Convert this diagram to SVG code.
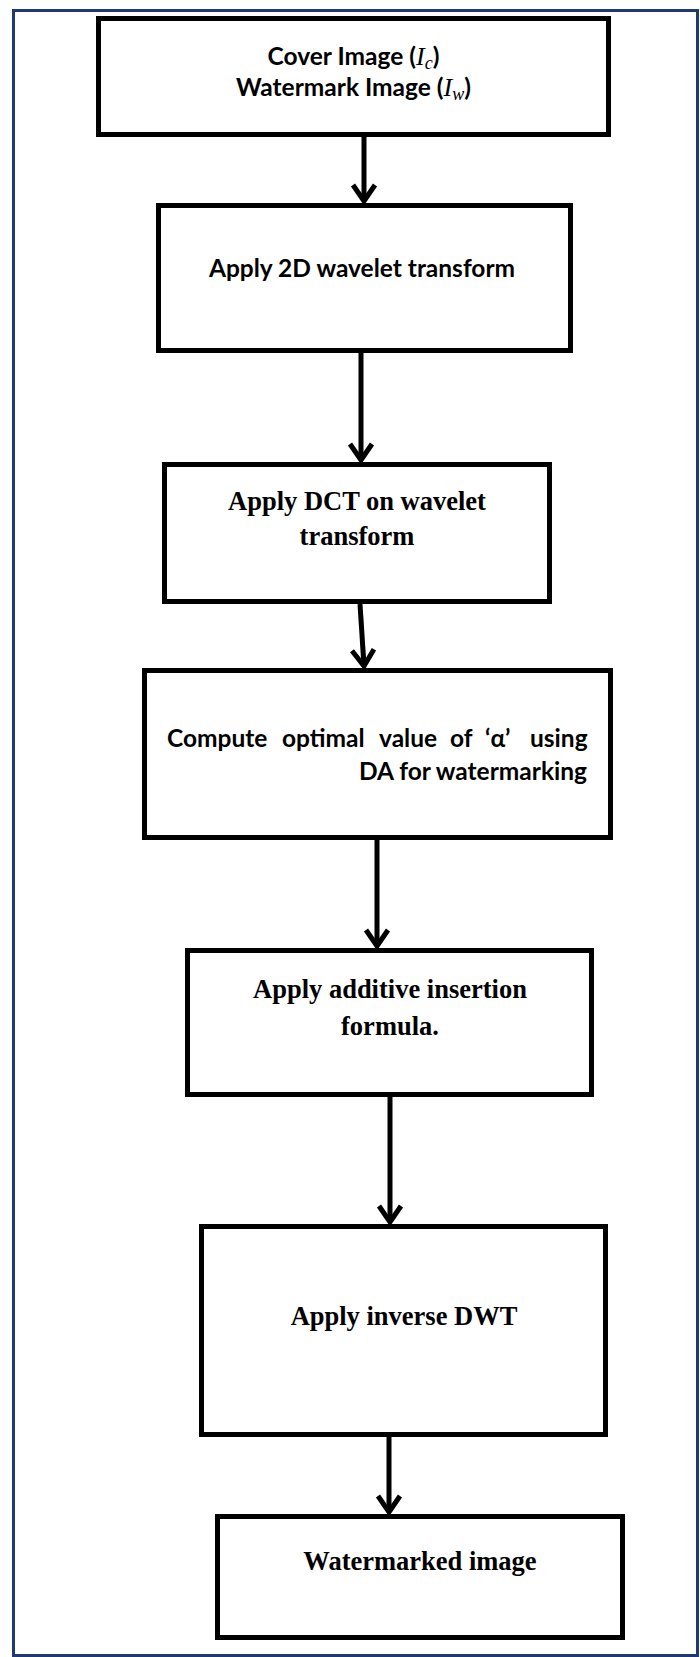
<svg xmlns="http://www.w3.org/2000/svg" width="700" height="1657" viewBox="0 0 700 1657">
<defs>
<style>
.box{fill:#fff;stroke:#000;stroke-width:5}
.frame{fill:#fff;stroke:#1f3a73;stroke-width:3}
.cal{font-family:Lato,"Carlito","Liberation Sans",sans-serif;font-weight:bold;font-size:24.5px;fill:#000}
.tnr{font-family:"Liberation Serif","Times New Roman",serif;font-weight:bold;font-size:26.5px;fill:#000}
.math{font-family:"Liberation Serif",serif;font-style:italic;font-weight:normal;font-size:26px}
.sub{font-family:"Liberation Serif",serif;font-style:italic;font-weight:normal;font-size:18px}
.con{fill:none;stroke:#000;stroke-width:5}
</style>
<marker id="arr" markerUnits="userSpaceOnUse" markerWidth="40" markerHeight="40" refX="0" refY="0" orient="auto" overflow="visible">
<path d="M-16,-11 L0,0 L-16,11" fill="none" stroke="#000" stroke-width="5" stroke-linejoin="miter"/>
</marker>
</defs>
<rect class="frame" x="13.5" y="10.5" width="684" height="1645"/>
<g id="connectors">
<line class="con" x1="364" y1="137" x2="364" y2="201" marker-end="url(#arr)"/>
<line class="con" x1="361" y1="353" x2="361" y2="460" marker-end="url(#arr)"/>
<line class="con" x1="360" y1="604" x2="364" y2="666" marker-end="url(#arr)"/>
<line class="con" x1="377" y1="840" x2="377" y2="946" marker-end="url(#arr)"/>
<line class="con" x1="390" y1="1097" x2="390" y2="1222" marker-end="url(#arr)"/>
<line class="con" x1="389" y1="1437" x2="389" y2="1512" marker-end="url(#arr)"/>
</g>
<g id="n1">
<rect class="box" x="98.5" y="18.5" width="510" height="116"/>
<text class="cal" x="353.5" y="65" text-anchor="middle">Cover Image (<tspan class="math">I</tspan><tspan class="sub" dy="4">c</tspan><tspan dy="-4">)</tspan></text>
<text class="cal" x="353.5" y="96" text-anchor="middle">Watermark Image (<tspan class="math">I</tspan><tspan class="sub" dy="4">w</tspan><tspan dy="-4">)</tspan></text>
</g>
<g id="n2">
<rect class="box" x="158.5" y="205.5" width="412" height="145"/>
<text class="cal" x="362" y="277" text-anchor="middle">Apply 2D wavelet transform</text>
</g>
<g id="n3">
<rect class="box" x="164.5" y="464.5" width="385" height="137"/>
<text class="tnr" x="357" y="510" text-anchor="middle">Apply DCT on wavelet</text>
<text class="tnr" x="357" y="545" text-anchor="middle">transform</text>
</g>
<g id="n4">
<rect class="box" x="144.5" y="670.5" width="466" height="167"/>
<text class="cal" y="747"><tspan x="167">Compute</tspan><tspan x="282">optimal</tspan><tspan x="379">value</tspan><tspan x="450">of</tspan><tspan x="485">‘α’</tspan><tspan x="530">using</tspan></text>
<text class="cal" x="587" y="780" text-anchor="end">DA for watermarking</text>
</g>
<g id="n5">
<rect class="box" x="187.5" y="950.5" width="404" height="144"/>
<text class="tnr" x="390" y="998" text-anchor="middle">Apply additive insertion</text>
<text class="tnr" x="390" y="1035" text-anchor="middle">formula.</text>
</g>
<g id="n6">
<rect class="box" x="201.5" y="1226.5" width="404" height="208"/>
<text class="tnr" x="404" y="1325" text-anchor="middle">Apply inverse DWT</text>
</g>
<g id="n7">
<rect class="box" x="217.5" y="1516.5" width="405" height="121"/>
<text class="tnr" x="420" y="1570" text-anchor="middle">Watermarked image</text>
</g>
</svg>
